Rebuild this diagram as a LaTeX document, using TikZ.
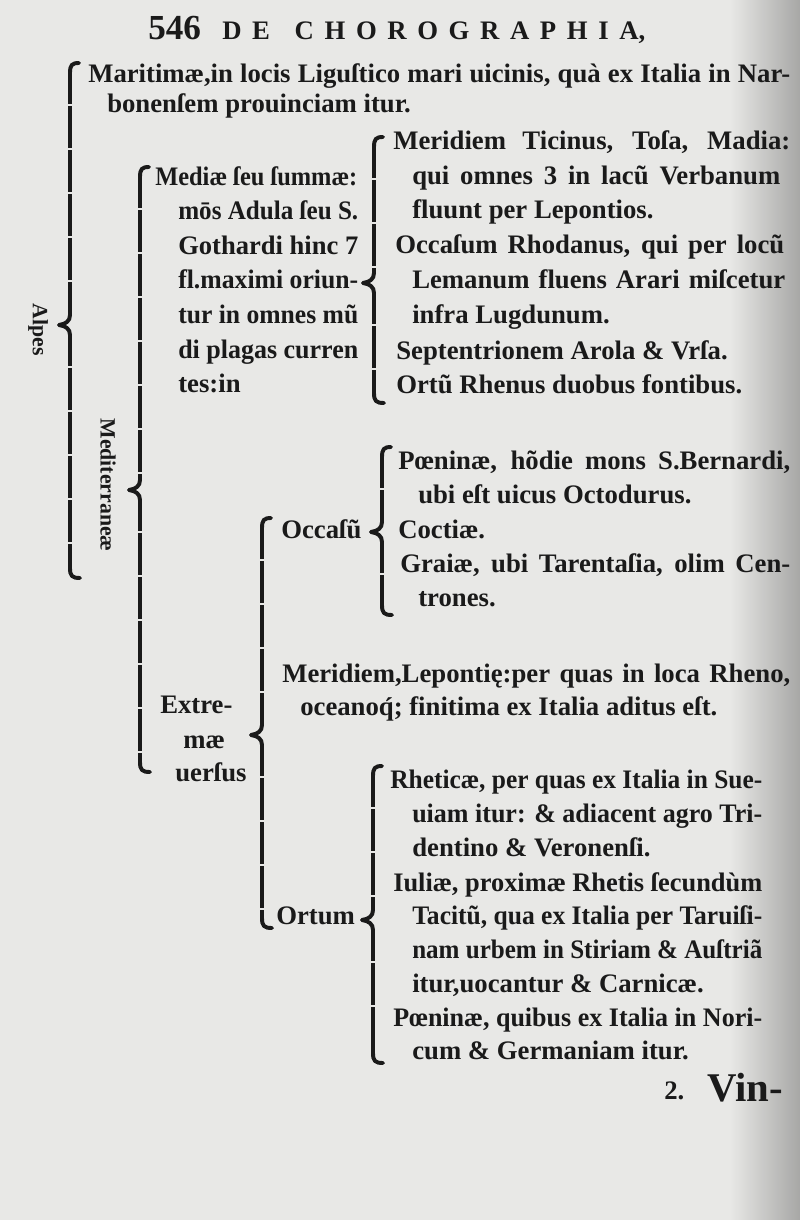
\documentclass[tikz,border=0pt]{standalone}
\usepackage{fontspec}
\setmainfont{Liberation Serif}

\definecolor{paper}{HTML}{E8E8E6}
\definecolor{ink}{HTML}{1A1A1A}

\newdimen\pxu \pxu=0.025cm
% a line set to a given width (in px): spread, or squeezed if too long
\newcommand\jline[2]{\setbox0=\hbox{#2}%
  \ifdim\wd0>#1\pxu
    \pgfmathsetmacro\jratio{\the\dimexpr#1\pxu\relax/\the\wd0}%
    \scalebox{\jratio}[1]{\box0}%
  \else
    \makebox[#1\pxu][s]{#2}%
  \fi}
% printed brace: x, top, tip, bottom (px)
\newcommand\drawbrace[4]{%
  \draw[brace] (#1+9,#2) .. controls (#1+2,#2) and (#1,#2+2) .. (#1,#2+10)
    -- (#1,#3-10) .. controls (#1,#3-4) and (#1-4,#3-1) .. (#1-11,#3)
    .. controls (#1-4,#3+1) and (#1,#3+4) .. (#1,#3+10)
    -- (#1,#4-10) .. controls (#1,#4-2) and (#1+2,#4) .. (#1+10,#4);
  \draw[gaps] (#1,#2+14) -- (#1,#3-14);
  \draw[gaps] (#1,#3+14) -- (#1,#4-14);
}

\begin{document}
\begin{tikzpicture}[x=0.025cm, y=-0.025cm,
    every node/.style={inner sep=0pt, text=ink},
    txt/.style={anchor=base west, font=\bfseries\fontsize{19}{22}\selectfont},
    side/.style={font=\bfseries\fontsize{15.5}{18}\selectfont, rotate=-90},
    brace/.style={draw=ink, line width=2.8pt, line cap=round, line join=round},
    gaps/.style={draw=paper, line width=4.5pt, dash pattern=on 1.3pt off 30pt, dash phase=12pt}]

  % page
  \fill[paper] (0,0) rectangle (800,1220);
  \shade[left color=paper, right color=paper!72!black] (730,0) rectangle (800,1220);
  \useasboundingbox (0,0) rectangle (800,1220);

  % running head
  \node[txt, font=\bfseries\fontsize{25}{28}\selectfont] (page) at (148,40) {546};
  \node[txt] (title) at (222,40) {\jline{423}{D E\hspace{10pt} C H O R O G R A P H I A,}};

  % Alpes
  \node[side] (alpes) at (38,330) {Alpes};
  \node[txt] (marit1) at (88,83) {\jline{702}{Maritimæ,in locis Liguſtico mari uicinis, quà ex Italia in Nar-}};
  \node[txt] (marit2) at (107,113) {bonenſem prouinciam itur.};
  \node[side] (medit) at (108,485) {Mediterraneæ};

  % Mediae seu summae
  \node[txt] (mediae1) at (155,186) {\jline{202}{Mediæ ſeu ſummæ:}};
  \node[txt] (mediae2) at (178,220) {\jline{180}{mōs Adula ſeu S.}};
  \node[txt] (mediae3) at (178,255) {\jline{180}{Gothardi hinc 7}};
  \node[txt] (mediae4) at (178,289) {\jline{180}{fl.maximi oriun-}};
  \node[txt] (mediae5) at (178,323) {\jline{180}{tur in omnes mũ}};
  \node[txt] (mediae6) at (178,358) {\jline{180}{di plagas curren}};
  \node[txt] (mediae7) at (178,392) {tes:in};

  \node[txt] (merid1) at (393,150) {\jline{397}{Meridiem Ticinus, Toſa, Madia:}};
  \node[txt] (merid2) at (412,185) {\jline{368}{qui omnes 3 in lacũ Verbanum}};
  \node[txt] (merid3) at (412,219) {fluunt per Lepontios.};
  \node[txt] (rhod1) at (395,254) {\jline{389}{Occaſum Rhodanus, qui per locũ}};
  \node[txt] (rhod2) at (412,289) {\jline{373}{Lemanum fluens Arari miſcetur}};
  \node[txt] (rhod3) at (412,324) {infra Lugdunum.};
  \node[txt] (septen) at (396,359) {Septentrionem Arola \& Vrſa.};
  \node[txt] (rhenus) at (396,393) {Ortũ Rhenus duobus fontibus.};

  % Extremae uersus
  \node[txt] (extre1) at (160,713) {Extre-};
  \node[txt] (extre2) at (183,748) {mæ};
  \node[txt] (extre3) at (175,781) {uerſus};

  \node[txt] (occasu) at (281,538) {Occaſũ};
  \node[txt] (poen1) at (398,469) {\jline{392}{Pœninæ, hõdie mons S.Bernardi,}};
  \node[txt] (poen2) at (418,503) {ubi eſt uicus Octodurus.};
  \node[txt] (coct) at (398,538) {Coctiæ.};
  \node[txt] (grai1) at (400,572) {\jline{390}{Graiæ, ubi Tarentaſia, olim Cen-}};
  \node[txt] (grai2) at (418,606) {trones.};

  \node[txt] (lepon1) at (282,682) {\jline{508}{Meridiem,Lepontię:per quas in loca Rheno,}};
  \node[txt] (lepon2) at (300,715) {oceanoq́; finitima ex Italia aditus eſt.};

  \node[txt] (ortum) at (276,924) {Ortum};
  \node[txt] (rhet1) at (390,788) {\jline{372}{Rheticæ, per quas ex Italia in Sue-}};
  \node[txt] (rhet2) at (412,822) {\jline{350}{uiam itur: \& adiacent agro Tri-}};
  \node[txt] (rhet3) at (412,856) {dentino \& Veronenſi.};
  \node[txt] (iul1) at (393,891) {\jline{369}{Iuliæ, proximæ Rhetis ſecundùm}};
  \node[txt] (iul2) at (412,924) {\jline{350}{Tacitũ, qua ex Italia per Taruiſi-}};
  \node[txt] (iul3) at (412,958) {\jline{350}{nam urbem in Stiriam \& Auſtriã}};
  \node[txt] (iul4) at (412,992) {itur,uocantur \& Carnicæ.};
  \node[txt] (poen3) at (393,1026) {\jline{369}{Pœninæ, quibus ex Italia in Nori-}};
  \node[txt] (poen4) at (412,1059) {cum \& Germaniam itur.};

  % catchword
  \node[txt] (num) at (664,1099) {2.};
  \node[txt, font=\bfseries\fontsize{29}{31}\selectfont] (vin) at (707,1101) {Vin-};

  % braces
  \drawbrace{70}{63}{325}{578}
  \drawbrace{140}{167}{490}{772}
  \drawbrace{374}{137}{283}{403}
  \drawbrace{382}{447}{532}{615}
  \drawbrace{262}{518}{735}{928}
  \drawbrace{373}{766}{920}{1063}
\end{tikzpicture}
\end{document}
